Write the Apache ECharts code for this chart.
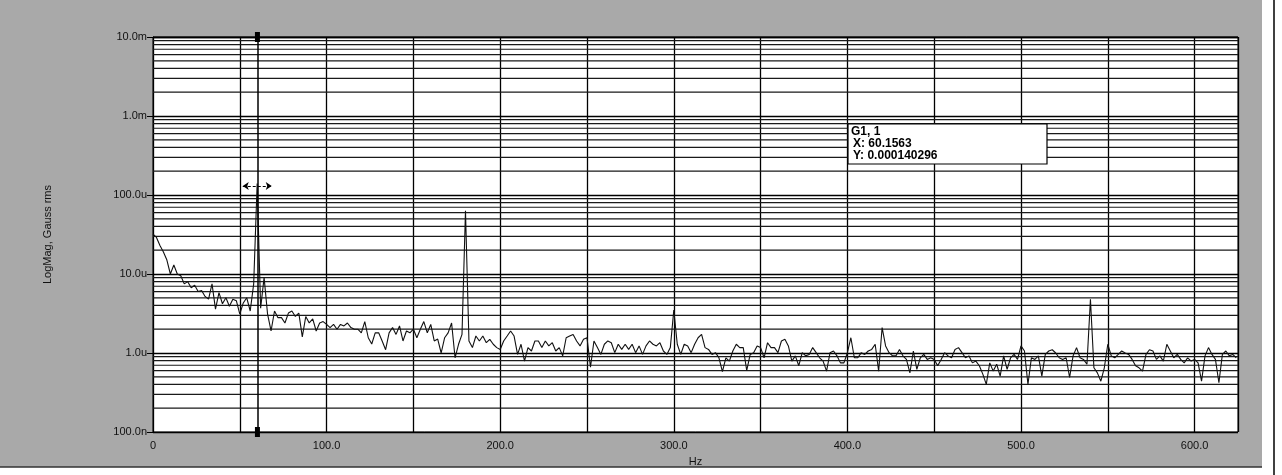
<!DOCTYPE html>
<html>
<head>
<meta charset="utf-8">
<script src="https://cdn.jsdelivr.net/npm/echarts@6/dist/echarts.min.js"></script>
<style>
  html, body { margin: 0; padding: 0; background: #fff; }
  #main { width: 1282px; height: 475px; }
</style>
</head>
<body>
<div id="main"></div>
<script>
// spectrum bins, every 2 Hz from 0 to 624 Hz
const FREQ_STEP = 2;
// magnitude in micro-gauss (rms)
const magMicro = [
  32, 29, 23, 19, 15, 10, 13, 10, 9.5, 7.5,
  8, 6.7, 7.2, 6, 6.2, 5.2, 4.8, 7.5, 3.6, 5.8,
  4.2, 5.0, 3.9, 4.8, 4.6, 3.1, 4.3, 5.0, 3.4, 7.5,
  140, 3.7, 9.0, 3.1, 1.9, 3.4, 2.8, 2.8, 2.4, 3.2,
  3.4, 2.9, 3.2, 1.6, 2.9, 2.4, 2.7, 1.9, 2.4, 2.5,
  2.3, 2.1, 2.3, 2.0, 2.3, 2.2, 2.4, 2.1, 2.0, 2.0,
  1.8, 2.5, 1.56, 1.3, 1.8, 1.8, 1.42, 1.1, 1.8, 2.1,
  1.72, 2.2, 1.42, 1.9, 1.8, 2.0, 1.56, 2.0, 2.5, 1.8,
  2.3, 1.42, 1.5, 1.0, 1.56, 1.8, 2.4, 0.87, 1.29, 1.72,
  63, 1.42, 1.17, 1.64, 1.42, 1.64, 1.35, 1.49, 1.29, 1.17,
  1.11, 1.42, 1.64, 1.9, 1.64, 0.96, 1.29, 0.79, 1.17, 1.06,
  1.42, 1.42, 1.17, 1.42, 1.23, 1.35, 1.06, 1.17, 0.92, 1.56,
  1.64, 1.72, 1.42, 1.23, 1.49, 1.56, 0.66, 1.42, 1.17, 0.96,
  1.29, 1.42, 1.35, 1.01, 1.29, 1.11, 1.29, 1.11, 1.29, 1.01,
  1.23, 0.96, 1.23, 1.42, 1.29, 1.23, 1.35, 1.06, 0.96, 1.17,
  3.5, 1.29, 0.96, 1.29, 1.23, 1.01, 1.29, 1.56, 1.72, 1.17,
  1.11, 0.96, 1.01, 0.87, 0.58, 0.87, 0.79, 1.06, 1.29, 1.17,
  1.17, 0.60, 0.96, 1.01, 1.23, 1.17, 0.87, 1.35, 1.17, 1.17,
  1.01, 1.42, 1.49, 1.23, 0.79, 0.92, 0.69, 1.01, 0.92, 0.96,
  1.17, 1.01, 0.87, 0.79, 0.59, 1.01, 1.06, 0.92, 0.75, 0.75,
  1.01, 1.56, 0.87, 0.87, 1.01, 0.96, 1.06, 1.11, 1.29, 0.59,
  2.1, 1.23, 1.01, 0.92, 0.92, 1.11, 0.92, 0.83, 0.56, 1.06,
  0.62, 0.87, 0.96, 0.83, 0.87, 0.83, 0.69, 0.83, 1.01, 0.92,
  0.87, 1.11, 1.17, 1.01, 0.87, 0.92, 0.75, 0.79, 0.69, 0.54,
  0.40, 0.75, 0.59, 0.72, 0.51, 0.92, 0.62, 0.87, 0.96, 0.83,
  1.23, 1.06, 0.40, 0.87, 0.83, 0.92, 0.51, 0.96, 1.06, 1.1,
  1.0, 0.87, 0.83, 0.87, 0.49, 0.92, 1.17, 0.87, 0.83, 0.72,
  4.8, 0.65, 0.56, 0.44, 0.65, 1.29, 0.92, 0.87, 0.96, 1.06,
  1.0, 0.96, 0.83, 0.69, 0.65, 0.59, 0.96, 1.1, 1.06, 0.83,
  0.92, 0.79, 1.29, 1.06, 0.87, 0.96, 0.83, 0.75, 0.87, 0.79,
  0.83, 0.75, 0.44, 0.92, 1.17, 0.96, 0.83, 0.42, 0.96, 1.06,
  0.92, 0.96, 0.87
];

// y axis decade labels (log10 of gauss -> text)
const yTickLabels = { '-7': '100.0n', '-6': '1.0u', '-5': '10.0u', '-4': '100.0u', '-3': '1.0m', '-2': '10.0m' };
const minorMultipliers = [2, 3, 4, 5, 6, 7, 8, 9];
const decades = [-7, -6, -5, -4, -3];
const X_MIN = 0;
const X_MAX = 625;

// marker readout
const cursorX = 60.1563;
const cursorY = 0.000140296;
const arrowSpan = [51.7, 68.4];
const arrowLevel = 1.3e-4;

const seriesData = magMicro.map((v, i) => [i * FREQ_STEP, v * 1e-6]);

// log minor grid: one horizontal run per 2..9 multiple, broken by gaps
const minorGrid = [];
decades.forEach(d => {
  minorMultipliers.forEach(m => {
    const v = m * Math.pow(10, d);
    minorGrid.push([X_MIN, v], [X_MAX, v], [X_MAX, '-']);
  });
});

const FONT = 'Liberation Sans, Arial, sans-serif';

const chart = echarts.init(document.getElementById('main'));
chart.setOption({
  animation: false,
  backgroundColor: '#a9a9a9',
  grid: {
    left: 153,
    right: 44,
    top: 37,
    bottom: 43,
    show: true,
    backgroundColor: '#ffffff',
    borderColor: '#000',
    borderWidth: 1
  },
  xAxis: {
    type: 'value',
    min: X_MIN,
    max: X_MAX,
    interval: 50,
    name: 'Hz',
    nameLocation: 'middle',
    nameGap: 24,
    nameTextStyle: { color: '#111', fontFamily: FONT, fontSize: 11 },
    axisLine: { show: false },
    axisTick: { show: false },
    axisLabel: {
      color: '#111',
      fontFamily: FONT,
      fontSize: 11,
      margin: 8,
      showMaxLabel: false,
      formatter: v => (v % 100 === 0 ? (v === 0 ? '0' : v.toFixed(1)) : '')
    },
    splitLine: { show: true, lineStyle: { color: '#000', width: 1.3 } }
  },
  yAxis: {
    type: 'log',
    logBase: 10,
    min: 1e-7,
    max: 1e-2,
    name: 'LogMag, Gauss rms',
    nameLocation: 'middle',
    nameGap: 100,
    nameRotate: 90,
    nameTextStyle: { color: '#111', fontFamily: FONT, fontSize: 11 },
    axisLine: { show: true, lineStyle: { color: '#000' } },
    axisTick: { show: true, length: 6, lineStyle: { color: '#000' } },
    axisLabel: {
      color: '#111',
      fontFamily: FONT,
      fontSize: 11,
      margin: 6,
      formatter: v => yTickLabels[String(Math.round(Math.log10(v)))] || ''
    },
    splitLine: { show: true, lineStyle: { color: '#000', width: 1.4 } }
  },
  series: [
    {
      name: 'minor grid',
      type: 'line',
      data: minorGrid,
      z: 1,
      silent: true,
      symbol: 'none',
      connectNulls: false,
      lineStyle: { color: '#1a1a1a', width: 1.2 }
    },
    {
      name: 'G1, 1',
      type: 'line',
      data: seriesData,
      z: 3,
      showSymbol: false,
      symbol: 'none',
      lineStyle: { color: '#111', width: 1.1 }
    },
    {
      // cursor at the 60 Hz peak
      type: 'line',
      data: [],
      z: 4,
      silent: true,
      markLine: {
        silent: true,
        symbol: ['rect', 'rect'],
        symbolSize: [5, 10],
        label: { show: false },
        lineStyle: { color: '#000', width: 1.5, type: 'solid' },
        itemStyle: { color: '#000' },
        data: [{ xAxis: cursorX }]
      }
    },
    {
      // span arrow
      type: 'line',
      data: [],
      z: 4,
      silent: true,
      markLine: {
        silent: true,
        symbol: ['arrow', 'arrow'],
        symbolSize: 6,
        label: { show: false },
        lineStyle: { color: '#000', width: 1, type: [3, 2] },
        itemStyle: { color: '#000' },
        data: [[{ coord: [arrowSpan[0], arrowLevel] }, { coord: [arrowSpan[1], arrowLevel] }]]
      }
    }
  ],
  graphic: [
    { type: 'rect', shape: { x: 1262, y: 0, width: 20, height: 475 }, style: { fill: '#fff' }, z: 50 },
    { type: 'rect', shape: { x: 0, y: 467, width: 1282, height: 8 }, style: { fill: '#fff' }, z: 50 },
    { type: 'line', shape: { x1: 1274, y1: 0, x2: 1274, y2: 475 }, style: { stroke: '#000', lineWidth: 1.5 }, z: 51 },
    { type: 'line', shape: { x1: 0, y1: 467, x2: 1262, y2: 467 }, style: { stroke: '#333', lineWidth: 1.5 }, z: 51 },
    // readout box for the cursor
    { type: 'rect', z: 100, shape: { x: 848, y: 124, width: 199, height: 40 }, style: { fill: '#fff', stroke: '#000', lineWidth: 1.2 } },
    { type: 'text', z: 101, x: 851, y: 126, style: { text: 'G1, 1', fill: '#000', font: 'bold 12px ' + FONT } },
    { type: 'text', z: 101, x: 853, y: 138, style: { text: 'X: ' + cursorX.toFixed(4), fill: '#000', font: 'bold 12px ' + FONT } },
    { type: 'text', z: 101, x: 853, y: 150, style: { text: 'Y: ' + cursorY, fill: '#000', font: 'bold 12px ' + FONT } }
  ]
});
</script>
</body>
</html>
